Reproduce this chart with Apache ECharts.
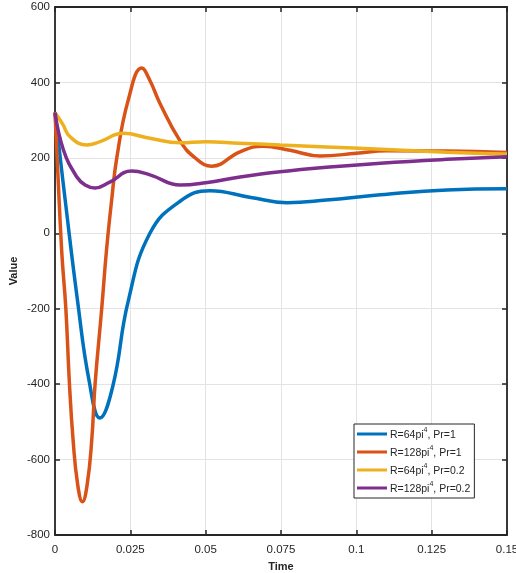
<!DOCTYPE html>
<html>
<head>
<meta charset="utf-8">
<script src="https://cdn.jsdelivr.net/npm/echarts@6/dist/echarts.min.js"></script>
<style>html,body{margin:0;padding:0;background:#fff;overflow:hidden}#c{width:516px;height:573px}</style>
</head>
<body>
<div id="c"></div>
<script>
const seriesNames = ['R=64pi^4, Pr=1', 'R=128pi^4, Pr=1', 'R=64pi^4, Pr=0.2', 'R=128pi^4, Pr=0.2'];
const colors = ['#0072BD', '#D95319', '#EDB120', '#7E2F8E'];

const blueT = [0, 0.0035, 0.0075, 0.0113, 0.0149, 0.0192, 0.0243, 0.0315, 0.0415, 0.0514, 0.065, 0.077, 0.09, 0.108, 0.13, 0.15];
const blueV = [320, 80, -180, -390, -490, -405, -180, 0, 85, 113, 95, 81, 88, 102, 115, 118];

const orangeT = [0, 0.0022, 0.0036, 0.0048, 0.006, 0.0075, 0.0091, 0.0107, 0.0122, 0.0133, 0.0155, 0.0171, 0.0188, 0.0205, 0.0243, 0.0288, 0.0315, 0.0348, 0.0415, 0.0465, 0.052, 0.0614, 0.069, 0.078, 0.088, 0.1, 0.11, 0.13, 0.15];
const orangeV = [320, -44, -200, -400, -548, -665, -712, -665, -548, -400, -200, -44, 88, 200, 353, 438, 405, 345, 245, 200, 178, 216, 231, 220, 205, 212, 219, 218, 214];

const yellowT = [0, 0.0025, 0.005, 0.0105, 0.015, 0.0226, 0.0315, 0.0415, 0.05, 0.061, 0.0747, 0.09, 0.108, 0.13, 0.15];
const yellowV = [320, 290, 256, 234, 243, 265, 252, 240, 243, 239, 234, 229, 223, 215, 210];

const purpleT = [0, 0.0028, 0.0072, 0.01, 0.0133, 0.018, 0.0254, 0.0315, 0.0415, 0.05, 0.0614, 0.0747, 0.09, 0.108, 0.13, 0.15];
const purpleV = [320, 221, 150, 128, 120, 135, 165, 155, 128, 134, 149, 163, 175, 186, 196, 203];

const xTicks = { min: 0, max: 0.15, interval: 0.025 };
const yTicks = { min: -800, max: 600, interval: 200 };

const allT = [blueT, orangeT, yellowT, purpleT];
const allV = [blueV, orangeV, yellowV, purpleV];

const FONT = '"Liberation Sans", Arial, Helvetica, sans-serif';
const AX = '#262626';

const chart = echarts.init(document.getElementById('c'), null, { renderer: 'canvas' });

function xFmt(v) { return String(parseFloat(Number(v).toFixed(4))); }

function axisCommon() {
  return {
    axisLine: { show: true, onZero: false, lineStyle: { color: AX, width: 1.8 } },
    axisTick: { show: true, inside: true, length: 5, lineStyle: { color: AX, width: 1.5 } }
  };
}

const option = {
  animation: false,
  backgroundColor: '#fff',
  grid: { left: 55, right: 9, top: 7, bottom: 38, containLabel: false, outerBoundsMode: 'none' },
  xAxis: [
    Object.assign({
      type: 'value', position: 'bottom', min: xTicks.min, max: xTicks.max, interval: xTicks.interval,
      name: 'Time', nameLocation: 'middle', nameGap: 26, nameMoveOverlap: false,
      nameTextStyle: { fontFamily: FONT, fontWeight: 'bold', fontSize: 11, color: AX },
      axisLabel: { formatter: xFmt, margin: 9, fontFamily: FONT, fontSize: 11.5, color: AX, hideOverlap: false },
      splitLine: { show: true, lineStyle: { color: '#e3e3e3', width: 1 } }
    }, axisCommon()),
    Object.assign({
      type: 'value', position: 'top', min: xTicks.min, max: xTicks.max, interval: xTicks.interval,
      axisLabel: { show: false }, splitLine: { show: false }
    }, axisCommon())
  ],
  yAxis: [
    Object.assign({
      type: 'value', position: 'left', min: yTicks.min, max: yTicks.max, interval: yTicks.interval,
      name: 'Value', nameLocation: 'middle', nameGap: 36, nameMoveOverlap: false,
      nameTextStyle: { fontFamily: FONT, fontWeight: 'bold', fontSize: 11, color: AX },
      axisLabel: { margin: 5, fontFamily: FONT, fontSize: 11.5, color: AX },
      splitLine: { show: true, lineStyle: { color: '#e3e3e3', width: 1 } }
    }, axisCommon()),
    Object.assign({
      type: 'value', position: 'right', min: yTicks.min, max: yTicks.max, interval: yTicks.interval,
      axisLabel: { show: false }, splitLine: { show: false }
    }, axisCommon())
  ],
  legend: {
    orient: 'vertical', left: 354, top: 424,
    backgroundColor: '#fff', borderColor: AX, borderWidth: 1,
    padding: [3, 4, 3, 3], itemGap: 4,
    icon: 'rect', itemWidth: 30, itemHeight: 3,
    data: seriesNames,
    formatter: function (name) {
      const m = name.match(/^(.*)\^(\d)(.*)$/);
      return '{n|' + m[1] + '}{s|' + m[2] + '}{n|' + m[3] + '}';
    },
    textStyle: {
      fontFamily: FONT, color: AX, padding: [0, 0, 0, -2],
      rich: {
        n: { fontFamily: FONT, fontSize: 10.5, color: AX, lineHeight: 14, verticalAlign: 'bottom' },
        s: { fontFamily: FONT, fontSize: 7, color: AX, lineHeight: 8, verticalAlign: 'top' }
      }
    }
  },
  series: seriesNames.map(function (nm, i) {
    return {
      name: nm, type: 'line', xAxisIndex: 0, yAxisIndex: 0,
      data: allT[i].map(function (t, k) { return [t, allV[i][k]]; }),
      showSymbol: false, symbol: 'none', smooth: 0.45,
      lineStyle: { color: colors[i], width: 3.5 }, itemStyle: { color: colors[i] },
      clip: true
    };
  })
};

chart.setOption(option);
</script>
</body>
</html>
